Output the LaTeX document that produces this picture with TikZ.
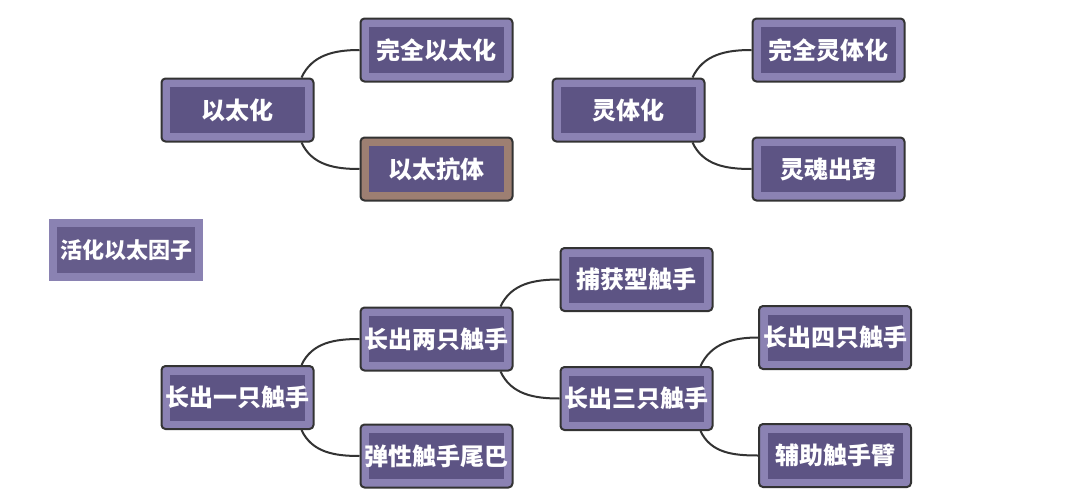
\documentclass[tikz,border=0pt]{standalone}
\usepackage{fontspec}
\newfontfamily\cjk{Noto Sans CJK SC}
\usetikzlibrary{calc}
\definecolor{linec}{HTML}{333333}
\definecolor{bandc}{HTML}{8B82B3}
\definecolor{innerc}{HTML}{5D5484}
\definecolor{brownc}{HTML}{9D7F72}
\definecolor{hhband}{HTML}{8A82B2}
\definecolor{hhinner}{HTML}{655C8B}
\tikzset{
  mbox/.style={minimum width=152pt, minimum height=63pt, inner sep=0pt,
    rounded corners=4pt, draw=linec, line width=2pt, fill=bandc, text=white,
    font=\cjk\bfseries\fontsize{24pt}{24pt}\selectfont,
    path picture={\fill[innerc, sharp corners] ([shift={(8.5pt,-8.5pt)}]path picture bounding box.north west) rectangle ([shift={(-8.5pt,8.5pt)}]path picture bounding box.south east);}},
  brownbox/.style={mbox, fill=brownc},
  plainbox/.style={minimum width=154pt, minimum height=62pt, inner sep=0pt,
    fill=hhband, text=white, font=\cjk\bfseries\fontsize{22pt}{22pt}\selectfont,
    path picture={\fill[hhinner] ([shift={(8pt,-8pt)}]path picture bounding box.north west) rectangle ([shift={(-8pt,8pt)}]path picture bounding box.south east);}},
  conn/.style={draw=linec, line width=2pt},
}
\begin{document}
\begin{tikzpicture}[x=1pt,y=1pt]
\useasboundingbox[fill=white] (0,0) rectangle (1080,-501);
% nodes
\node[mbox] (yth) at (237.5,-110) {以太化};
\node[mbox] (wqyth) at (436.5,-50) {完全以太化};
\node[brownbox] (ytkt) at (436.5,-169) {以太抗体};
\node[mbox] (lth) at (628.5,-110) {灵体化};
\node[mbox] (wqlth) at (828.5,-50) {完全灵体化};
\node[mbox] (lhcq) at (828.5,-169) {灵魂出窍};
\node[plainbox] (hh) at (126,-250) {活化以太因子};
\node[mbox] (bhx) at (636.5,-279.5) {捕获型触手};
\node[mbox] (lc2) at (436.5,-339) {长出两只触手};
\node[mbox] (lc1) at (237.5,-397.5) {长出一只触手};
\node[mbox] (txwb) at (436.5,-456) {弹性触手尾巴};
\node[mbox] (lc3) at (636.5,-398.5) {长出三只触手};
\node[mbox] (lc4) at (835,-337.5) {长出四只触手};
\node[mbox] (fz) at (835,-455.5) {辅助触手臂};
% connectors
\foreach \p/\a/\b in {yth/wqyth/ytkt, lth/wqlth/lhcq, lc1/lc2/txwb, lc2/bhx/lc3, lc3/lc4/fz}{
  \draw[conn] ($(\p.north east)+(-13,0)$) to[out=65,in=180] (\a.west);
  \draw[conn] ($(\p.south east)+(-13,0)$) to[out=-65,in=180] (\b.west);
}
\end{tikzpicture}
\end{document}
